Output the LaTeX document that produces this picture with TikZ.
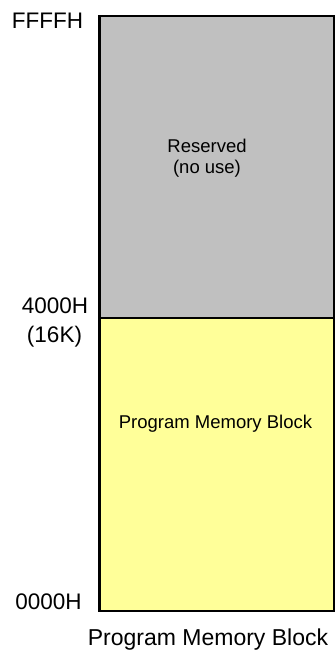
\documentclass[tikz,border=0pt]{standalone}
\usepackage{fontspec}
\setmainfont{Liberation Sans}
\definecolor{resgray}{HTML}{C0C0C0}
\definecolor{progyellow}{HTML}{FFFF99}
\begin{document}
\begin{tikzpicture}[x=1pt,y=-1pt,
  region/.style={draw=black,line width=2.2pt,inner sep=0pt,outer sep=0pt},
  addr/.style={inner sep=0pt,anchor=base,font=\fontsize{22.5}{27}\selectfont},
  inner/.style={inner sep=0pt,anchor=base,font=\fontsize{18.5}{22}\selectfont}]
\useasboundingbox (0,0) rectangle (335,652);
% memory regions
\path[region,fill=resgray] (99.5,16) rectangle (334,318);
\path[region,fill=progyellow] (99.5,318) rectangle (334,611);
\node[inner sep=0pt,minimum width=234.5pt,minimum height=302pt] (reserved) at (216.75,167) {};
\node[inner sep=0pt,minimum width=234.5pt,minimum height=293pt] (program) at (216.75,464.5) {};
% region labels
\node[inner] (res1) at (207,152.7) {Reserved};
\node[inner] (res2) at (207,174) {(no use)};
\node[inner] (pmb) at (215.5,428) {Program Memory Block};
% address labels
\node[addr] (top) at (47.5,28.3) {FFFFH};
\node[addr] (mid1) at (55,313) {4000H};
\node[addr] (mid2) at (54.5,342) {(16K)};
\node[addr] (bot) at (48.5,609.3) {0000H};
% caption
\node[addr,font=\fontsize{23}{27}\selectfont] (caption) at (208,645) {Program Memory Block};
\end{tikzpicture}
\end{document}
